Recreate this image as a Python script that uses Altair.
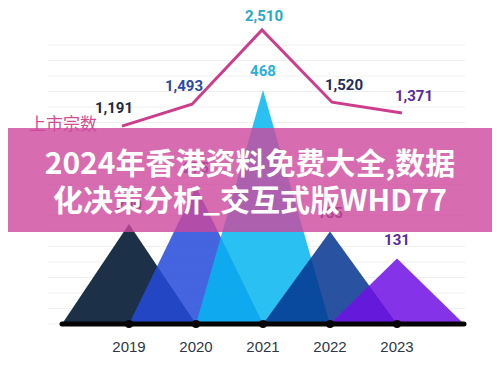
import altair as alt
import pandas as pd

# ---- data ----
years = ["2019", "2020", "2021", "2022", "2023"]
listings = [1191, 1493, 2510, 1520, 1371]          # 上市宗数 (line)
peaks = [200, 275, 468, 185, 131]                  # triangle heights
tri_colors = ["#1c3048", "#244adb", "#05b5f0", "#04358f", "#700fe4"]
tri_opacity = [1.0, 0.85, 0.85, 0.85, 0.85]
line_label_colors = ["#1b2a40", "#2b4aa5", "#28a8c8", "#1e2d5a", "#5a2aa0"]
peak_label_colors = ["#1b2a40", "#2b4aa5", "#2ab0dc", "#1e2d5a", "#5a2aa0"]
grid_values = [0, 31, 62, 93, 124, 155, 186, 217, 248, 279, 310, 341, 372,
               403, 434, 465, 496, 527, 558]
series_label = "上市宗数"
title_lines = ["2024年香港资料免费大全,数据", "化决策分析_交互式版WHD77"]

NUM_FONT = "Roboto"
CJK_FONT = "Noto Sans CJK SC"

# ---- tables built from the lists ----
n = len(years)
pts = pd.DataFrame({
    "i": list(range(n)),
    "year": years,
    "n": listings,
    "p": peaks,
    "lc": line_label_colors,
    "pc": peak_label_colors,
    "nlab": [f"{v:,}" for v in listings],
    "plab": [str(v) for v in peaks],
})
tri_rows = []
for i, (y, v) in enumerate(zip(years, peaks)):
    tri_rows += [{"year": y, "xi": i - 1, "v": 0},
                 {"year": y, "xi": i, "v": v},
                 {"year": y, "xi": i + 1, "v": 0}]
tri = pd.DataFrame(tri_rows)
grid = pd.DataFrame({"g": grid_values})
base = pd.DataFrame({"x0": [-1], "x1": [n], "z": [0]})
one = pd.DataFrame({"k": [0]})

xs_tri = alt.Scale(domain=[0, 4], range=[121, 389], nice=False, zero=False)
ys_tri = alt.Scale(domain=[0, 632], range=[316, 0], nice=False)
xs_line = alt.Scale(domain=[0, 4], range=[114, 394], nice=False, zero=False)
ys_line = alt.Scale(domain=[0, 2812], range=[205, 0], nice=False)

layers = []

# faint gridlines
layers.append(alt.Chart(grid).mark_rule(color="#efefef", strokeWidth=1).encode(
    y=alt.Y("g:Q", scale=ys_tri, axis=None),
    x=alt.value(40), x2=alt.value(457)))

# triangles
for i, y in enumerate(years):
    layers.append(
        alt.Chart(tri).transform_filter(alt.datum.year == y)
        .mark_area(color=tri_colors[i], opacity=tri_opacity[i])
        .encode(x=alt.X("xi:Q", scale=xs_tri, axis=None),
                y=alt.Y("v:Q", scale=ys_tri, axis=None, stack=None)))

# baseline + dots
layers.append(alt.Chart(base).mark_rule(color="#050505", strokeWidth=5, strokeCap="round").encode(
    x=alt.X("x0:Q", scale=xs_tri, axis=None), x2="x1:Q",
    y=alt.Y("z:Q", scale=ys_tri, axis=None)))
layers.append(alt.Chart(pts).mark_circle(size=64, color="#050505", opacity=1).encode(
    x=alt.X("i:Q", scale=xs_tri, axis=None),
    y=alt.Y("zero:Q", scale=ys_tri, axis=None)).transform_calculate(zero="0"))

# year labels
layers.append(alt.Chart(pts).mark_text(fontSize=15, font="Liberation Sans", color="#2d3748",
                                       baseline="middle").encode(
    x=alt.X("i:Q", scale=xs_tri, axis=None),
    y=alt.value(339), text="year:N"))

# line
layers.append(alt.Chart(pts).mark_line(color="#cc3d8c", strokeWidth=3).encode(
    x=alt.X("i:Q", scale=xs_line, axis=None),
    y=alt.Y("n:Q", scale=ys_line, axis=None)))

# line labels
for sel, dx, dy in [([0, 1], -8, -18), ([2], 2, -14), ([3, 4], 12, -17)]:
    layers.append(
        alt.Chart(pts).transform_filter(alt.FieldOneOfPredicate(field="i", oneOf=sel))
        .mark_text(font=NUM_FONT, fontWeight="bold", fontSize=15, dx=dx, dy=dy, baseline="middle")
        .encode(x=alt.X("i:Q", scale=xs_line, axis=None),
                y=alt.Y("n:Q", scale=ys_line, axis=None),
                text="nlab:N", color=alt.Color("lc:N", scale=None)))

# triangle labels
layers.append(alt.Chart(pts).mark_text(font=NUM_FONT, fontWeight="bold", fontSize=15, dy=-19,
                                       baseline="middle").encode(
    x=alt.X("i:Q", scale=xs_tri, axis=None),
    y=alt.Y("p:Q", scale=ys_tri, axis=None),
    text="plab:N", color=alt.Color("pc:N", scale=None)))

# series label
layers.append(alt.Chart(one).mark_text(text=series_label, font=CJK_FONT, fontSize=17,
                                       color="#d24c92", baseline="middle").encode(
    x=alt.value(55), y=alt.value(117)))

# pink overlay band
layers.append(alt.Chart(one).mark_rect(color="#ce479c", opacity=0.8).encode(
    x=alt.value(0), x2=alt.value(484), y=alt.value(120), y2=alt.value(224)))
layers.append(alt.Chart(one).mark_text(text=title_lines, font=CJK_FONT, fontWeight="bold",
                                       fontSize=30, lineHeight=37, color="white",
                                       baseline="middle", align="center").encode(
    x=alt.value(242), y=alt.value(157)))

chart = alt.layer(*layers).resolve_scale(x="independent", y="independent").properties(
    width=484, height=349, padding=0,
    autosize=alt.AutoSizeParams(type="none"),
).configure_view(stroke=None)

chart.save("out.html", embed_options={"renderer": "svg", "actions": False})
